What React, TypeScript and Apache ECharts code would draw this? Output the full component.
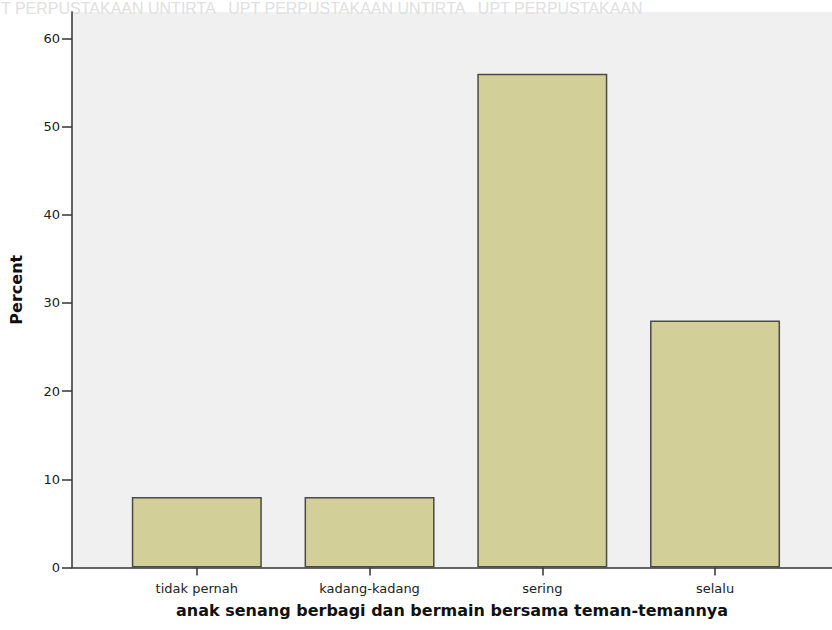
import React, { useEffect, useRef } from "react";
import * as echarts from "echarts";

const categories = ["tidak pernah", "kadang-kadang", "sering", "selalu"];
const percentValues = [8, 8, 56, 28];
const yTicks = [0, 10, 20, 30, 40, 50, 60];
const xTitle = "anak senang berbagi dan bermain bersama teman-temannya";
const yTitle = "Percent";
const watermark = "T PERPUSTAKAAN UNTIRTA   UPT PERPUSTAKAAN UNTIRTA   UPT PERPUSTAKAAN";

export default function App() {
  const ref = useRef<HTMLDivElement>(null);
  useEffect(() => {
    if (!ref.current) return;
    const chart = echarts.init(ref.current, null, { renderer: "svg" });
    chart.setOption({
      animation: false,
      backgroundColor: "#ffffff",
      graphic: [
        {
          type: "text",
          left: 1,
          top: 0,
          silent: true,
          style: {
            text: watermark,
            fill: "#e0e0e0",
            font: "16px 'Liberation Sans', sans-serif",
          },
        },
      ],
      grid: {
        left: 71,
        right: 0,
        top: 12,
        bottom: 62.5,
        show: true,
        backgroundColor: "#f0f0f0",
        borderWidth: 0,
      },
      xAxis: {
        type: "value",
        min: -0.7225,
        max: 3.677,
        interval: 1,
        splitLine: { show: false },
        axisLine: { show: true, onZero: false, lineStyle: { color: "#333", width: 1.5 } },
        axisTick: {
          show: true,
          length: 8,
          lineStyle: { color: "#333", width: 1.5 },
          customValues: [0, 1, 2, 3],
        },
        axisLabel: {
          customValues: [0, 1, 2, 3],
          formatter: (v: number) => categories[Math.round(v)] ?? "",
          color: "#222",
          fontSize: 13,
          fontFamily: "'DejaVu Sans', sans-serif",
          margin: 14,
        },
        name: xTitle,
        nameLocation: "middle",
        nameGap: 35,
        nameTextStyle: {
          color: "#111",
          fontSize: 16,
          fontWeight: "bold",
          fontFamily: "'DejaVu Sans', sans-serif",
        },
      },
      yAxis: {
        type: "value",
        min: 0,
        max: 63,
        interval: 10,
        splitLine: { show: false },
        axisLine: { show: true, onZero: false, lineStyle: { color: "#333", width: 1.5 } },
        axisTick: {
          show: true,
          length: 10,
          lineStyle: { color: "#333", width: 1.5 },
          customValues: yTicks,
        },
        axisLabel: {
          customValues: yTicks,
          color: "#222",
          fontSize: 13,
          fontFamily: "'DejaVu Sans', sans-serif",
          margin: 12,
        },
        name: yTitle,
        nameLocation: "middle",
        nameGap: 48,
        nameTextStyle: {
          color: "#111",
          fontSize: 16,
          fontWeight: "bold",
          fontFamily: "'DejaVu Sans', sans-serif",
        },
      },
      series: [
        {
          type: "bar",
          data: percentValues.map((v, i) => [i, v]),
          barWidth: 130,
          itemStyle: {
            color: "#d3cf98",
            borderColor: "#4a4a4a",
            borderWidth: 1.5,
          },
        },
      ],
    });
    return () => chart.dispose();
  }, []);
  return <div ref={ref} style={{ width: 832, height: 630, position: "absolute", left: 0, top: 0 }} />;
}
